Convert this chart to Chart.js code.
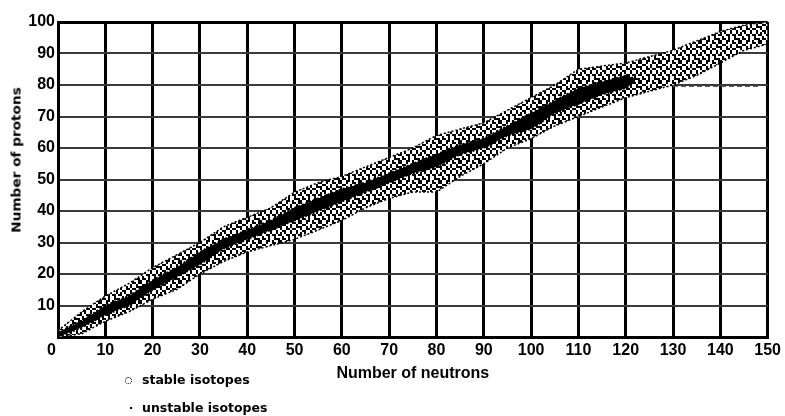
<!DOCTYPE html>
<html>
<head>
<meta charset="utf-8">
<script src="https://cdn.jsdelivr.net/npm/chart.js@4"></script>
<style>
  body { margin: 0; background: #fff; }
  #wrap { position: relative; width: 785px; height: 416px; }
  #ytitle {
    position: absolute; left: 16px; top: 160px;
    transform: translate(-50%, -50%) rotate(-90deg) scaleX(1.05);
    font: bold 13px "DejaVu Sans", sans-serif; white-space: nowrap; color: #000;
  }
  .legend-item {
    position: absolute; left: 142px;
    font: bold 12.5px "DejaVu Sans", sans-serif; line-height: 14px; white-space: nowrap; color: #000;
  }
  .sym { position: absolute; }
</style>
</head>
<body>
<div id="wrap">
  <canvas id="nuclides" width="785" height="416"></canvas>
  <div id="ytitle">Number of protons</div>
  <div class="sym" style="left:125px;top:377px;width:5px;height:5px;border:1px dotted #000;border-radius:50%;"></div>
  <div class="legend-item" style="top:373px;">stable isotopes</div>
  <div class="sym" style="left:130px;top:407px;width:2px;height:2px;background:#000;"></div>
  <div class="legend-item" style="top:401px;">unstable isotopes</div>
</div>
<script>
// Band of known isotopes, every 5 neutrons
const bandNeutrons = [0, 5, 10, 15, 20, 25, 30, 35, 40, 45, 50, 55, 60, 65, 70, 75,
                      80, 85, 90, 95, 100, 105, 110, 115, 120, 125, 130, 135, 140, 145, 150];
const unstableLow  = [0, 1, 5, 8, 12, 15, 20, 24, 27, 29, 31, 34, 37, 41, 44, 46,
                      46, 51, 55, 60, 63, 67, 70, 73, 76, 78, 80, 83, 87, 91, 93];
const unstableHigh = [2, 8, 13, 17, 22, 26, 30, 35, 38, 41, 46, 49, 51, 54, 57, 60,
                      64, 66, 68, 72, 76, 80, 85, 86, 87, 89, 91, 94, 97, 99, 100];

// Stable core (black), ends around N = 122
const stableNeutrons = [0, 5, 10, 15, 20, 25, 30, 35, 40, 45, 50, 55, 60, 65, 70, 75,
                        80, 85, 90, 95, 100, 105, 110, 115, 120, 122];
const stableLow  = [0, 3, 7, 10, 15, 19, 23, 28, 31, 34, 37, 40, 43, 46, 49, 52,
                    54, 58, 60, 64, 66, 71, 74, 77, 79, 81];
const stableHigh = [1.5, 5, 10, 13, 18, 22, 27, 31, 34, 37, 41, 44, 47, 49, 52, 55,
                    58, 61, 63, 67, 71, 75, 79, 81, 83, 82];

// dotted stray line near the top right
const strayNeutrons = [130, 148];
const strayProtons = [79.5, 79.5];

const pts = (xs, ys) => xs.map((x, i) => ({ x: x, y: ys[i] }));

const canvas = document.getElementById('nuclides');
const ctx = canvas.getContext('2d');

// speckled texture for the unstable band (each cell 2x2 px)
function makePattern(rows, cell) {
    const tile = document.createElement('canvas');
    tile.width = rows[0].length * cell;
    tile.height = rows.length * cell;
    const g = tile.getContext('2d');
    g.fillStyle = '#fff';
    g.fillRect(0, 0, tile.width, tile.height);
    g.fillStyle = '#000';
    rows.forEach((r, y) => {
        [...r].forEach((ch, x) => { if (ch === 'X') g.fillRect(x * cell, y * cell, cell, cell); });
    });
    return ctx.createPattern(tile, 'repeat');
}
const speckle = makePattern([
    'X..XX.X..X',
    'X..X..XX.X',
    '.XX..X..X.',
    'X..X.X..XX',
    'X..XX.XX..',
    '.XX..X..X.',
    'X.X..X..X.',
    'X..XX.XX.X',
    '.X..X..X..',
    '.XX.X..XXX'
], 2);

const tickFont = { family: "'Liberation Sans', Arial, sans-serif", size: 16, weight: 'bold' };

new Chart(ctx, {
    type: 'line',
    data: {
        datasets: [
            {
                data: pts(strayNeutrons, strayProtons),
                borderColor: '#555', borderWidth: 1, borderDash: [5, 3],
                pointRadius: 0, fill: false
            },
            {
                data: pts(stableNeutrons, stableLow),
                borderColor: '#000', borderWidth: 2, borderDash: [2, 2],
                pointRadius: 0, fill: false
            },
            {
                data: pts(stableNeutrons, stableHigh),
                borderColor: '#000', borderWidth: 2, borderDash: [2, 2],
                backgroundColor: '#000', pointRadius: 0, fill: '-1'
            },
            {
                data: pts(bandNeutrons, unstableLow),
                borderColor: '#000', borderWidth: 1.5, borderDash: [2, 2],
                pointRadius: 0, fill: false
            },
            {
                data: pts(bandNeutrons, unstableHigh),
                borderColor: '#000', borderWidth: 1.5, borderDash: [2, 2],
                backgroundColor: speckle, pointRadius: 0, fill: '-1'
            }
        ]
    },
    options: {
        responsive: false,
        animation: false,
        layout: { padding: { top: 22, right: 13, left: 0, bottom: 0 } },
        elements: { line: { tension: 0 } },
        scales: {
            x: {
                type: 'linear',
                min: 0, max: 150,
                ticks: {
                    stepSize: 10, color: '#000', font: tickFont, padding: 4, maxRotation: 0,
                    callback: v => v === 0 ? '0\u2007\u2005' : v
                },
                grid: { color: '#000', lineWidth: 3, drawTicks: false },
                border: { display: true, color: '#000', width: 3 },
                title: {
                    display: true, text: 'Number of neutrons', color: '#000',
                    font: { family: "'Liberation Sans', Arial, sans-serif", size: 16, weight: 'bold' },
                    padding: { top: 0, bottom: 33 }
                },
                afterFit: s => { s.height = 79; }
            },
            y: {
                min: 0, max: 100,
                ticks: {
                    stepSize: 10, color: '#000', font: tickFont, padding: 3,
                    callback: v => v === 0 ? '' : v
                },
                grid: {
                    color: c => (c.tick && c.tick.value === 100) ? '#000' : '#3a3a3a',
                    lineWidth: c => (c.tick && c.tick.value === 100) ? 3 : 2,
                    drawTicks: false
                },
                border: { display: true, color: '#000', width: 3 },
                afterFit: s => { s.width = 58; }
            }
        },
        plugins: {
            legend: { display: false },
            tooltip: { enabled: false }
        }
    }
});
</script>
</body>
</html>
